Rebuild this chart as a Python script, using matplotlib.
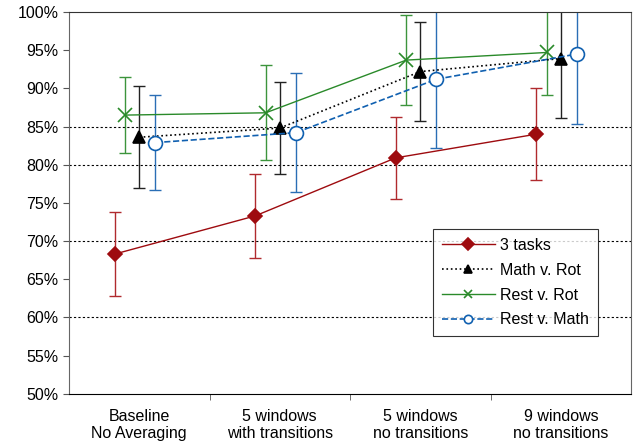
import matplotlib.pyplot as plt
from matplotlib.ticker import FuncFormatter, FixedLocator

plt.rcParams['font.family'] = ['Liberation Sans', 'DejaVu Sans']

categories = ["Baseline\nNo Averaging", "5 windows\nwith transitions",
              "5 windows\nno transitions", "9 windows\nno transitions"]

tasks3 = [68.3, 73.3, 80.9, 84.0]
tasks3_err = [5.5, 5.5, 5.4, 6.0]
math_rot = [83.6, 84.8, 92.2, 93.9]
math_rot_err = [6.7, 6.0, 6.5, 7.8]
rest_rot = [86.5, 86.8, 93.7, 94.7]
rest_rot_err = [5.0, 6.2, 5.9, 5.6]
rest_math = [82.9, 84.2, 91.2, 94.5]
rest_math_err = [6.2, 7.8, 9.0, 9.2]

# label, values, errors, x offset, line colour, style, marker, face, size, errbar colour
series = [
    ("3 tasks", tasks3, tasks3_err, -0.175, "#9E0B0F", "-", "D", "#9E0B0F", 7, "#B02A2E"),
    ("Math v. Rot", math_rot, math_rot_err, 0.0, "black", ":", "^", "black", 9, "#222222"),
    ("Rest v. Rot", rest_rot, rest_rot_err, -0.1, "#2A8A2A", "-", "x", "#2A8A2A", 10, "#3C943C"),
    ("Rest v. Math", rest_math, rest_math_err, 0.115, "#1060B0", "--", "o", "white", 10, "#2A6EB5"),
]

fig = plt.figure(figsize=(6.33, 4.44), dpi=100)
ax = fig.add_axes([0.109, 0.113, 0.888, 0.86])

base = list(range(1, len(categories) + 1))
for label, vals, errs, off, col, ls, mk, fc, ms, ecol in series:
    xs = [b + off for b in base]
    ax.errorbar(xs, vals, yerr=errs, fmt="none", ecolor=ecol, elinewidth=1.0,
                capsize=4, capthick=1.0, zorder=2)
    ax.plot(xs, vals, color=col, linestyle=ls, linewidth=1.2 if ls != "-" else 1.0,
            marker=mk, markersize=ms, markerfacecolor=fc, markeredgecolor=col,
            markeredgewidth=1.2, label=label, zorder=3)

ax.set_xlim(0.5, 4.5)
ax.set_ylim(50, 100)
ax.set_yticks(range(50, 101, 5))
ax.yaxis.set_major_formatter(FuncFormatter(lambda v, p: f"{int(v)}%"))
ax.set_xticks(base)
ax.set_xticklabels(categories, linespacing=1.15)
ax.xaxis.set_minor_locator(FixedLocator([1.5, 2.5, 3.5]))
ax.tick_params(axis="x", which="major", length=0, pad=11, labelsize=11.5)
ax.tick_params(axis="x", which="minor", length=4, color="#555555")
ax.tick_params(axis="y", length=4, labelsize=11.5, color="#555555")

for g in [60, 70, 80, 85]:
    ax.axhline(g, color="black", linestyle=(0, (2, 2)), linewidth=0.8, zorder=1)

for s in ["left", "right"]:
    ax.spines[s].set_color("#666666")
ax.spines["top"].set_color("#333333")

leg = ax.legend(loc="lower right", bbox_to_anchor=(0.955, 0.13), fontsize=11.5,
                handlelength=3.3, handletextpad=0.35, frameon=True, fancybox=False,
                edgecolor="black", labelspacing=0.62, borderpad=0.55)
leg.get_frame().set_linewidth(0.8)
for h in leg.legend_handles:
    h.set_markersize(6)

plt.savefig("out.png", dpi=100)
